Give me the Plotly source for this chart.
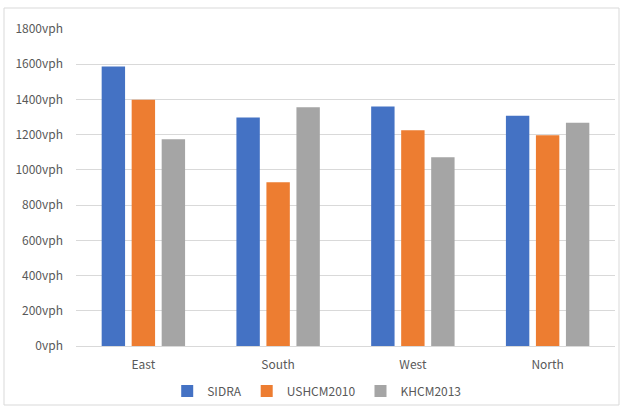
import plotly.graph_objects as go

categories = ["East", "South", "West", "North"]
sidra = [1587, 1297, 1360, 1308]
ushcm2010 = [1398, 930, 1225, 1197]
khcm2013 = [1174, 1355, 1072, 1268]
y_ticks = [0, 200, 400, 600, 800, 1000, 1200, 1400, 1600, 1800]
y_tick_labels = [f"{v}vph" for v in y_ticks]

font_family = "Noto Sans CJK KR, Noto Sans, sans-serif"
txt = "#595959"

fig = go.Figure()
fig.add_trace(go.Bar(name="SIDRA", x=categories, y=sidra, marker_color="#4472C4", marker_line_width=0))
fig.add_trace(go.Bar(name="USHCM2010", x=categories, y=ushcm2010, marker_color="#ED7D31", marker_line_width=0))
fig.add_trace(go.Bar(name="KHCM2013", x=categories, y=khcm2013, marker_color="#A5A5A5", marker_line_width=0))

fig.update_layout(
    width=621, height=407,
    margin=dict(l=76, r=6, t=29, b=61, autoexpand=False),
    paper_bgcolor="white", plot_bgcolor="white",
    barmode="group", bargap=0.332, bargroupgap=0.22,
    font=dict(family=font_family, size=12, color=txt),
    showlegend=True,
    legend=dict(orientation="h", x=0.51, xanchor="center", xref="container",
                y=16/407, yanchor="middle", yref="container",
                font=dict(size=12, color=txt), itemwidth=30, tracegroupgap=0,
                bgcolor="rgba(0,0,0,0)"),
    xaxis=dict(showgrid=False, showline=True, linecolor="#D9D9D9", linewidth=1,
               ticks="", ticklabelstandoff=8, tickfont=dict(size=12, color=txt)),
    yaxis=dict(range=[0, 1800], tickvals=y_ticks, ticktext=y_tick_labels,
               showgrid=True, gridcolor="#D9D9D9", gridwidth=1, zeroline=False,
               showline=False, ticks="", ticklabelstandoff=12,
               tickfont=dict(size=12, color=txt)),
    shapes=[dict(type="rect", xref="paper", yref="paper",
                 x0=-72/539, x1=1 + 4/539, y0=-59/317, y1=1 + 21/317,
                 line=dict(color="#D9D9D9", width=1), fillcolor="rgba(0,0,0,0)", layer="below")],
)

fig.write_html("out.html")
